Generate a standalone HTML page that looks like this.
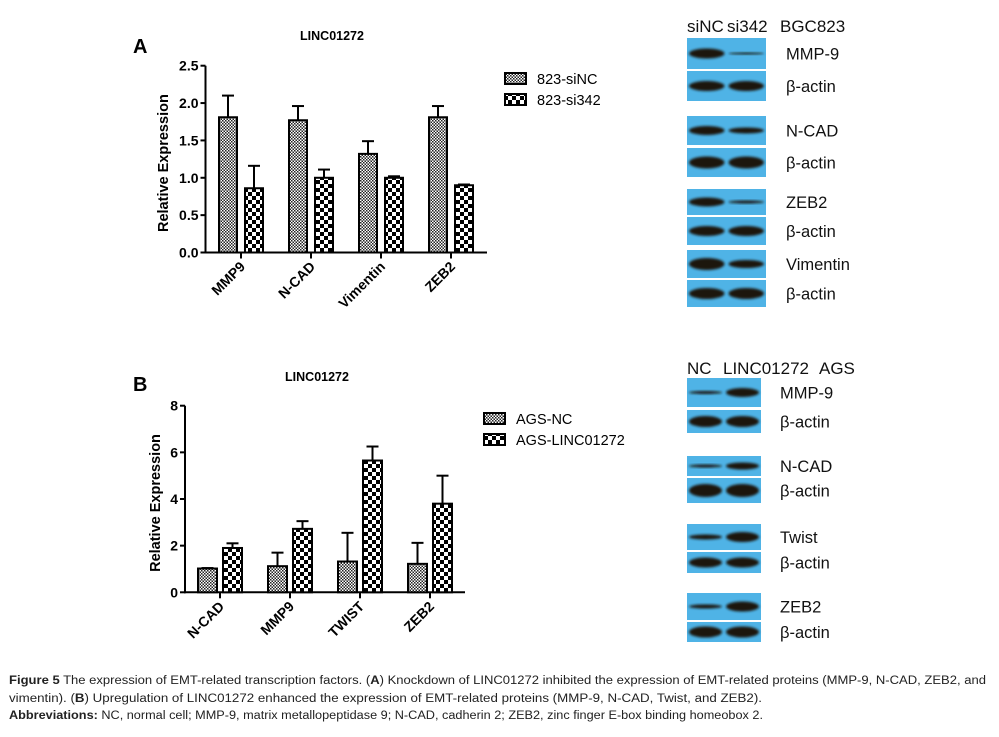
<!DOCTYPE html>
<html><head><meta charset="utf-8"><style>
html,body{margin:0;padding:0;background:#fff;}
svg{display:block;font-family:"Liberation Sans",Arial,sans-serif;}
</style></head><body>
<svg id="fig" width="999" height="737" viewBox="0 0 999 737" xmlns="http://www.w3.org/2000/svg">
<defs>
<pattern id="fine" width="3" height="3" patternUnits="userSpaceOnUse"><rect width="3" height="3" fill="#fff"/><rect width="1.5" height="1.5" fill="#222"/><rect x="1.5" y="1.5" width="1.5" height="1.5" fill="#222"/></pattern>
<pattern id="coarse" width="8" height="8" patternUnits="userSpaceOnUse"><rect width="8" height="8" fill="#fff"/><rect width="4" height="4" fill="#000"/><rect x="4" y="4" width="4" height="4" fill="#000"/></pattern>
<filter id="blur" x="-20%" y="-50%" width="140%" height="200%"><feGaussianBlur stdDeviation="1.4"/></filter>
</defs>
<g id="chartA"></g>
<g id="chartB"></g>
<g id="blots"></g>
<g font-family="'Liberation Sans',sans-serif" font-size="11.5" fill="#222">
<text x="9" y="684" textLength="977" lengthAdjust="spacingAndGlyphs"><tspan font-weight="bold">Figure 5</tspan> The expression of EMT-related transcription factors. (<tspan font-weight="bold">A</tspan>) Knockdown of LINC01272 inhibited the expression of EMT-related proteins (MMP-9, N-CAD, ZEB2, and</text>
<text x="9" y="702" textLength="753" lengthAdjust="spacingAndGlyphs">vimentin). (<tspan font-weight="bold">B</tspan>) Upregulation of LINC01272 enhanced the expression of EMT-related proteins (MMP-9, N-CAD, Twist, and ZEB2).</text>
<text x="9" y="719" textLength="754" lengthAdjust="spacingAndGlyphs"><tspan font-weight="bold">Abbreviations:</tspan> NC, normal cell; MMP-9, matrix metallopeptidase 9; N-CAD, cadherin 2; ZEB2, zinc finger E-box binding homeobox 2.</text>
</g>
</svg>
<script>
const catsA = ["MMP9","N-CAD","Vimentin","ZEB2"];
const seriesA1 = [1.81,1.77,1.32,1.81];
const errA1 = [0.29,0.19,0.17,0.15];
const seriesA2 = [0.86,1.00,1.00,0.90];
const errA2 = [0.30,0.11,0.02,0.01];
const ticksA = ["0.0","0.5","1.0","1.5","2.0","2.5"];
const tickValsA = [0,0.5,1,1.5,2,2.5];
const legendA = ["823-siNC","823-si342"];

const catsB = ["N-CAD","MMP9","TWIST","ZEB2"];
const seriesB1 = [1.02,1.12,1.32,1.22];
const errB1 = [0.02,0.58,1.23,0.90];
const seriesB2 = [1.90,2.72,5.65,3.80];
const errB2 = [0.20,0.33,0.60,1.20];
const ticksB = ["0","2","4","6","8"];
const tickValsB = [0,2,4,6,8];
const legendB = ["AGS-NC","AGS-LINC01272"];

const NS="http://www.w3.org/2000/svg";
function mk(parent,tag,attrs,text){const e=document.createElementNS(NS,tag);for(const k in attrs)e.setAttribute(k,attrs[k]);if(text!==undefined)e.textContent=text;parent.appendChild(e);return e;}

function drawChart(g,cfg){
  const y=v=>cfg.y0-(v-0)*(cfg.y0-cfg.yTop)/cfg.max;
  const x=i=>cfg.x0+cfg.step*i;
  let t;
  t=mk(g,"text",{x:cfg.letterX,y:cfg.letterY,"font-size":20,"font-weight":"bold"},cfg.letter);
  
  
  t=mk(g,"text",{x:cfg.titleX,y:cfg.titleY,"font-size":12.5,"font-weight":"bold","text-anchor":"middle"},"LINC01272");
  
  
  const ax=mk(g,"g",{stroke:"#000","stroke-width":2});
  
  
  mk(ax,"line",{x1:cfg.axX,y1:cfg.yTop,x2:cfg.axX,y2:cfg.y0+1});
  mk(ax,"line",{x1:cfg.axX-1,y1:cfg.y0,x2:cfg.axEnd,y2:cfg.y0});
  cfg.tickVals.forEach((v,i)=>{
    mk(ax,"line",{x1:cfg.axX-5,y1:y(v),x2:cfg.axX,y2:y(v)});
    const l=mk(g,"text",{x:cfg.axX-7,y:y(v)+5,"font-size":14,"font-weight":"bold","text-anchor":"end"},cfg.ticks[i]);
    
    
  });
  const yt=mk(g,"text",{x:0,y:0,"font-size":14.5,"font-weight":"bold","text-anchor":"middle",transform:`translate(${cfg.yTitleX},${(cfg.y0+cfg.yTop)/2+4}) rotate(-90)`},"Relative Expression");
  
  
  cfg.cats.forEach((c,i)=>{
    const cx=x(i);
    mk(ax,"line",{x1:cx,y1:cfg.y0,x2:cx,y2:cfg.y0+6});
    const l=mk(g,"text",{x:0,y:0,"font-size":14,"font-weight":"bold","text-anchor":"end",transform:`translate(${cx+5},${cfg.y0+15}) rotate(-45)`},c);
    
    
    [[cfg.s1,cfg.e1,"url(#fine)",-1],[cfg.s2,cfg.e2,"url(#coarse)",1]].forEach(([s,e,fill,side],k)=>{
      const bx = side<0 ? cx-cfg.off-cfg.bw : cx+cfg.off;
      const top=y(s[i]), et=y(s[i]+e[i]);
      const eb=mk(g,"g",{stroke:"#000","stroke-width":2});
      
      
      mk(eb,"line",{x1:bx+cfg.bw/2,y1:top,x2:bx+cfg.bw/2,y2:et});
      mk(eb,"line",{x1:bx+cfg.bw/2-6,y1:et,x2:bx+cfg.bw/2+6,y2:et});
      const r=mk(g,"rect",{x:bx,y:top,width:cfg.bw,height:cfg.y0-top,fill:fill,stroke:"#000","stroke-width":2});
      
      
    });
  });
  cfg.legend.forEach((name,k)=>{
    const ly=cfg.legY+k*21;
    const r=mk(g,"rect",{x:cfg.legX,y:ly,width:21,height:11,fill:k?"url(#coarse)":"url(#fine)",stroke:"#000","stroke-width":2});
    
    
    const t2=mk(g,"text",{x:cfg.legX+32,y:ly+11,"font-size":14.5},name);
    
    
  });
}
drawChart(document.getElementById("chartA"),{letter:"A",letterX:133,letterY:53,titleX:332,titleY:40,
  x0:241,step:70,bw:18,off:4,y0:252.5,yTop:65.7,max:2.5,axX:205.5,axEnd:487,yTitleX:168,
  tickVals:tickValsA,ticks:ticksA,cats:catsA,s1:seriesA1,e1:errA1,s2:seriesA2,e2:errA2,legend:legendA,legX:505,legY:73});
drawChart(document.getElementById("chartB"),{letter:"B",letterX:133,letterY:391,titleX:317,titleY:381,
  x0:220,step:70,bw:19,off:3,y0:592.3,yTop:405.7,max:8,axX:185,axEnd:465,yTitleX:160,
  tickVals:tickValsB,ticks:ticksB,cats:catsB,s1:seriesB1,e1:errB1,s2:seriesB2,e2:errB2,legend:legendB,legX:484,legY:413});

const blotsA=[["MMP-9",38,69,10,2],["β-actin",71,101,10,10],["N-CAD",116,145,9,6],["β-actin",148,177,12,12],["ZEB2",189,215,9,3],["β-actin",217,245,10,10],["Vimentin",250,278,12,8],["β-actin",280,307,11,11]];
const blotsB=[["MMP-9",378,407,3,9],["β-actin",410,433,11,11],["N-CAD",456,476,3,7],["β-actin",478,503,13,13],["Twist",524,550,5,10],["β-actin",552,573,10,10],["ZEB2",593,620,4,10],["β-actin",622,642,11,11]];
const bg=document.getElementById("blots");
function drawBlots(list,x0,x1,labX,headers,hy){
  headers.forEach(([txt,hx])=>{
    const h=mk(bg,"text",{x:hx,y:hy,"font-size":17,fill:"#111"},txt);
    
    
  });
  list.forEach(([lab,a,b,h1,h2])=>{
    const p=mk(bg,"g",{});
    
    
    mk(p,"rect",{x:x0,y:a,width:x1-x0,height:b-a,fill:"#4fb3e6"});
    const mid=(a+b)/2, w=(x1-x0)/2;
    [h1,h2].forEach((hh,k)=>{
      mk(p,"ellipse",{cx:x0+w*k+w/2,cy:mid,rx:w/2-2,ry:hh/2,fill:"#1a1410",filter:"url(#blur)"});
    });
    const t=mk(bg,"text",{x:labX,y:mid+6,"font-size":16.5,fill:"#111"},lab);
    
    
  });
}
drawBlots(blotsA,687,766,786,[["siNC",687],["si342",727],["BGC823",780]],32);
drawBlots(blotsB,687,761,780,[["NC",687],["LINC01272",723],["AGS",819]],374);
</script>
</body></html>
